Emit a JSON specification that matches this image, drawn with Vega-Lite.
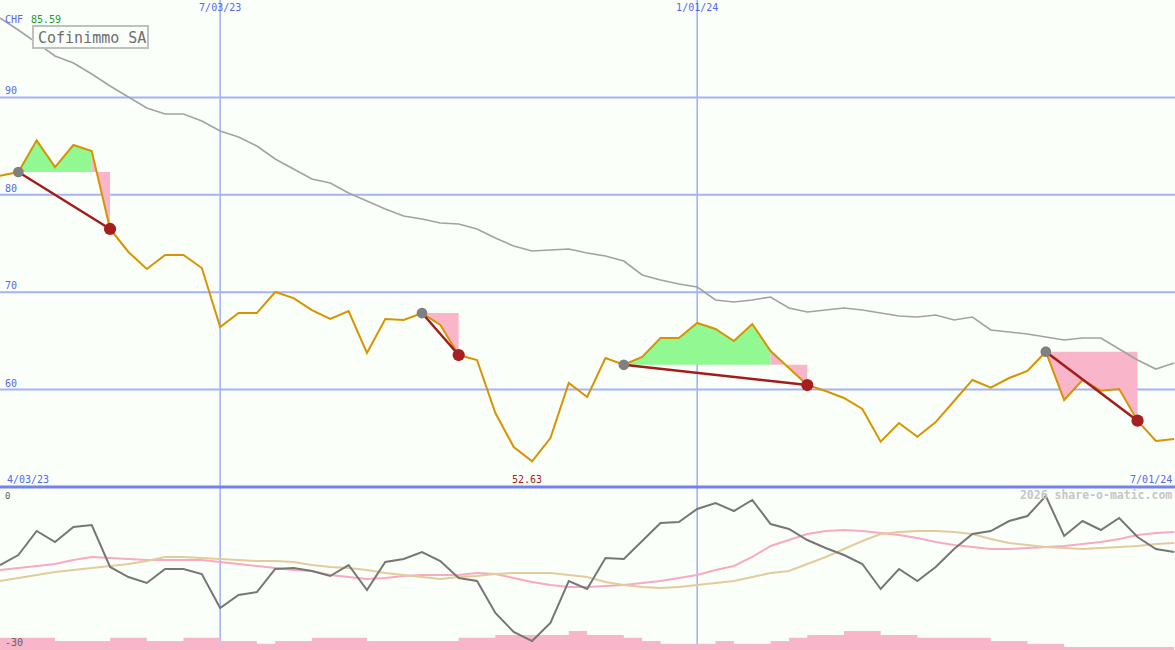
{
  "$schema": "https://vega.github.io/schema/vega-lite/v6.json",
  "width": 1175,
  "height": 650,
  "padding": 0,
  "autosize": {"type": "none"},
  "background": "#fbfffa",
  "config": {"view": {"stroke": null}, "font": "DejaVu Sans Mono"},
  "datasets": {
    "w": [
      {"d": "2023-04-03", "p": 81.72, "ma": null, "o": null, "s1": null, "s2": null, "v": null},
      {"d": "2023-04-10", "p": 81.96, "ma": 98.15, "o": -14.36, "s1": -15.28, "s2": -17.30, "v": -27.74},
      {"d": "2023-04-17", "p": 82.34, "ma": 96.92, "o": -12.52, "s1": -14.91, "s2": -16.75, "v": -27.74},
      {"d": "2023-04-24", "p": 85.59, "ma": 95.59, "o": -8.10, "s1": -14.54, "s2": -16.20, "v": -27.74},
      {"d": "2023-05-01", "p": 82.85, "ma": 94.25, "o": -10.12, "s1": -14.17, "s2": -15.64, "v": -28.34},
      {"d": "2023-05-08", "p": 85.11, "ma": 93.53, "o": -7.36, "s1": -13.44, "s2": -15.28, "v": -28.34},
      {"d": "2023-05-15", "p": 84.50, "ma": 92.40, "o": -6.99, "s1": -12.88, "s2": -14.91, "v": -28.34},
      {"d": "2023-05-22", "p": 76.49, "ma": 91.17, "o": -14.72, "s1": -13.07, "s2": -14.54, "v": -27.74},
      {"d": "2023-05-29", "p": 74.13, "ma": 90.04, "o": -16.57, "s1": -13.25, "s2": -14.17, "v": -27.74},
      {"d": "2023-06-05", "p": 72.38, "ma": 88.91, "o": -17.67, "s1": -13.44, "s2": -13.62, "v": -28.34},
      {"d": "2023-06-12", "p": 73.82, "ma": 88.30, "o": -15.09, "s1": -13.44, "s2": -12.88, "v": -28.34},
      {"d": "2023-06-19", "p": 73.82, "ma": 88.30, "o": -15.09, "s1": -13.44, "s2": -12.88, "v": -27.74},
      {"d": "2023-06-26", "p": 72.48, "ma": 87.58, "o": -16.01, "s1": -13.44, "s2": -13.07, "v": -27.74},
      {"d": "2023-07-03", "p": 66.43, "ma": 86.55, "o": -22.27, "s1": -13.80, "s2": -13.25, "v": -28.34},
      {"d": "2023-07-10", "p": 67.86, "ma": 85.93, "o": -19.88, "s1": -14.17, "s2": -13.44, "v": -28.34},
      {"d": "2023-07-17", "p": 67.86, "ma": 85.01, "o": -19.33, "s1": -14.54, "s2": -13.62, "v": -28.84},
      {"d": "2023-07-24", "p": 70.02, "ma": 83.68, "o": -15.09, "s1": -14.91, "s2": -13.62, "v": -28.34},
      {"d": "2023-07-31", "p": 69.40, "ma": 82.65, "o": -14.91, "s1": -15.28, "s2": -13.80, "v": -28.34},
      {"d": "2023-08-07", "p": 68.17, "ma": 81.62, "o": -15.46, "s1": -15.46, "s2": -14.36, "v": -27.74},
      {"d": "2023-08-14", "p": 67.25, "ma": 81.21, "o": -16.38, "s1": -16.20, "s2": -14.72, "v": -27.74},
      {"d": "2023-08-21", "p": 68.07, "ma": 80.18, "o": -14.36, "s1": -16.56, "s2": -14.91, "v": -27.74},
      {"d": "2023-08-28", "p": 63.76, "ma": 79.36, "o": -18.96, "s1": -16.93, "s2": -15.28, "v": -28.34},
      {"d": "2023-09-04", "p": 67.25, "ma": 78.54, "o": -13.80, "s1": -16.75, "s2": -15.83, "v": -28.34},
      {"d": "2023-09-11", "p": 67.15, "ma": 77.82, "o": -13.25, "s1": -16.38, "s2": -16.20, "v": -28.34},
      {"d": "2023-09-18", "p": 67.86, "ma": 77.52, "o": -11.96, "s1": -16.20, "s2": -16.56, "v": -28.34},
      {"d": "2023-09-25", "p": 66.63, "ma": 77.10, "o": -13.62, "s1": -16.20, "s2": -16.93, "v": -28.34},
      {"d": "2023-10-02", "p": 63.55, "ma": 77.00, "o": -16.75, "s1": -16.20, "s2": -16.56, "v": -27.74},
      {"d": "2023-10-09", "p": 63.04, "ma": 76.49, "o": -17.30, "s1": -15.83, "s2": -16.38, "v": -27.74},
      {"d": "2023-10-16", "p": 57.60, "ma": 75.56, "o": -23.19, "s1": -16.01, "s2": -16.01, "v": -27.24},
      {"d": "2023-10-23", "p": 54.11, "ma": 74.74, "o": -26.69, "s1": -16.75, "s2": -15.83, "v": -27.24},
      {"d": "2023-10-30", "p": 52.63, "ma": 74.23, "o": -28.35, "s1": -17.48, "s2": -15.83, "v": -27.24},
      {"d": "2023-11-06", "p": 55.03, "ma": 74.33, "o": -25.03, "s1": -18.04, "s2": -15.83, "v": -27.24},
      {"d": "2023-11-13", "p": 60.68, "ma": 74.44, "o": -17.30, "s1": -18.41, "s2": -16.20, "v": -26.50},
      {"d": "2023-11-20", "p": 59.24, "ma": 74.02, "o": -18.77, "s1": -18.41, "s2": -16.56, "v": -27.24},
      {"d": "2023-11-27", "p": 63.24, "ma": 73.72, "o": -13.07, "s1": -18.22, "s2": -17.48, "v": -27.24},
      {"d": "2023-12-04", "p": 62.55, "ma": 73.20, "o": -13.25, "s1": -18.04, "s2": -18.04, "v": -27.74},
      {"d": "2023-12-11", "p": 63.35, "ma": 71.77, "o": -9.94, "s1": -17.67, "s2": -18.41, "v": -28.34},
      {"d": "2023-12-18", "p": 65.30, "ma": 71.25, "o": -6.63, "s1": -17.30, "s2": -18.59, "v": -28.84},
      {"d": "2023-12-25", "p": 65.30, "ma": 70.84, "o": -6.44, "s1": -16.75, "s2": -18.41, "v": -28.84},
      {"d": "2024-01-01", "p": 66.84, "ma": 70.53, "o": -4.05, "s1": -16.20, "s2": -18.04, "v": -28.84},
      {"d": "2024-01-08", "p": 66.22, "ma": 69.20, "o": -2.94, "s1": -15.28, "s2": -17.67, "v": -28.34},
      {"d": "2024-01-15", "p": 64.99, "ma": 68.99, "o": -4.42, "s1": -14.54, "s2": -17.30, "v": -28.84},
      {"d": "2024-01-22", "p": 66.74, "ma": 69.20, "o": -2.39, "s1": -12.88, "s2": -16.56, "v": -28.84},
      {"d": "2024-01-29", "p": 63.96, "ma": 69.51, "o": -6.81, "s1": -10.86, "s2": -15.83, "v": -28.34},
      {"d": "2024-02-05", "p": 62.22, "ma": 68.38, "o": -7.73, "s1": -9.75, "s2": -15.46, "v": -27.74},
      {"d": "2024-02-12", "p": 60.47, "ma": 67.97, "o": -9.76, "s1": -8.65, "s2": -14.17, "v": -27.24},
      {"d": "2024-02-19", "p": 59.86, "ma": 68.17, "o": -11.23, "s1": -8.10, "s2": -12.88, "v": -27.24},
      {"d": "2024-02-26", "p": 59.14, "ma": 68.38, "o": -12.52, "s1": -7.91, "s2": -11.41, "v": -26.50},
      {"d": "2024-03-04", "p": 58.01, "ma": 68.17, "o": -14.17, "s1": -8.10, "s2": -9.94, "v": -26.50},
      {"d": "2024-03-11", "p": 54.65, "ma": 67.86, "o": -18.77, "s1": -8.47, "s2": -8.65, "v": -27.24},
      {"d": "2024-03-18", "p": 56.57, "ma": 67.56, "o": -15.09, "s1": -8.83, "s2": -8.28, "v": -27.24},
      {"d": "2024-03-25", "p": 55.16, "ma": 67.45, "o": -17.30, "s1": -9.39, "s2": -8.10, "v": -27.74},
      {"d": "2024-04-01", "p": 56.67, "ma": 67.66, "o": -14.72, "s1": -10.12, "s2": -8.10, "v": -27.74},
      {"d": "2024-04-08", "p": 58.83, "ma": 67.15, "o": -11.41, "s1": -10.67, "s2": -8.28, "v": -27.74},
      {"d": "2024-04-15", "p": 60.99, "ma": 67.45, "o": -8.65, "s1": -11.04, "s2": -8.65, "v": -27.74},
      {"d": "2024-04-22", "p": 60.19, "ma": 66.12, "o": -8.10, "s1": -11.41, "s2": -9.57, "v": -28.34},
      {"d": "2024-04-29", "p": 61.19, "ma": 65.91, "o": -6.26, "s1": -11.41, "s2": -10.31, "v": -28.34},
      {"d": "2024-05-06", "p": 61.91, "ma": 65.71, "o": -5.34, "s1": -11.23, "s2": -10.67, "v": -28.84},
      {"d": "2024-05-13", "p": 63.89, "ma": 65.40, "o": -1.66, "s1": -11.04, "s2": -11.04, "v": -28.84},
      {"d": "2024-05-20", "p": 58.93, "ma": 65.09, "o": -9.02, "s1": -10.86, "s2": -11.23, "v": -29.45},
      {"d": "2024-05-27", "p": 60.99, "ma": 65.30, "o": -6.26, "s1": -10.49, "s2": -11.41, "v": -29.45},
      {"d": "2024-06-03", "p": 59.89, "ma": 65.30, "o": -7.91, "s1": -10.12, "s2": -11.23, "v": -29.45},
      {"d": "2024-06-10", "p": 60.06, "ma": 64.17, "o": -5.71, "s1": -9.57, "s2": -11.04, "v": -29.45},
      {"d": "2024-06-17", "p": 56.81, "ma": 63.04, "o": -9.20, "s1": -8.83, "s2": -10.86, "v": -29.45},
      {"d": "2024-06-24", "p": 54.72, "ma": 62.11, "o": -11.41, "s1": -8.47, "s2": -10.49, "v": -29.45},
      {"d": "2024-07-01", "p": 54.93, "ma": 62.73, "o": -11.96, "s1": -8.28, "s2": -10.31, "v": -29.45}
    ],
    "fills": [
      {"g": 1, "k": "gain", "d": "2023-04-17", "p": 82.34, "b": 82.34},
      {"g": 1, "k": "gain", "d": "2023-04-24", "p": 85.59, "b": 82.34},
      {"g": 1, "k": "gain", "d": "2023-05-01", "p": 82.85, "b": 82.34},
      {"g": 1, "k": "gain", "d": "2023-05-08", "p": 85.11, "b": 82.34},
      {"g": 1, "k": "gain", "d": "2023-05-15", "p": 84.50, "b": 82.34},
      {"g": 2, "k": "loss", "d": "2023-05-15", "p": 84.50, "b": 82.34},
      {"g": 2, "k": "loss", "d": "2023-05-22", "p": 76.49, "b": 82.34},
      {"g": 3, "k": "loss", "d": "2023-09-18", "p": 67.86, "b": 67.86},
      {"g": 3, "k": "loss", "d": "2023-09-25", "p": 66.63, "b": 67.86},
      {"g": 3, "k": "loss", "d": "2023-10-02", "p": 63.55, "b": 67.86},
      {"g": 4, "k": "gain", "d": "2023-12-04", "p": 62.55, "b": 62.55},
      {"g": 4, "k": "gain", "d": "2023-12-11", "p": 63.35, "b": 62.55},
      {"g": 4, "k": "gain", "d": "2023-12-18", "p": 65.30, "b": 62.55},
      {"g": 4, "k": "gain", "d": "2023-12-25", "p": 65.30, "b": 62.55},
      {"g": 4, "k": "gain", "d": "2024-01-01", "p": 66.84, "b": 62.55},
      {"g": 4, "k": "gain", "d": "2024-01-08", "p": 66.22, "b": 62.55},
      {"g": 4, "k": "gain", "d": "2024-01-15", "p": 64.99, "b": 62.55},
      {"g": 4, "k": "gain", "d": "2024-01-22", "p": 66.74, "b": 62.55},
      {"g": 4, "k": "gain", "d": "2024-01-29", "p": 63.96, "b": 62.55},
      {"g": 5, "k": "loss", "d": "2024-01-29", "p": 63.96, "b": 62.55},
      {"g": 5, "k": "loss", "d": "2024-02-05", "p": 62.22, "b": 62.55},
      {"g": 5, "k": "loss", "d": "2024-02-12", "p": 60.47, "b": 62.55},
      {"g": 6, "k": "loss", "d": "2024-05-13", "p": 63.89, "b": 63.89},
      {"g": 6, "k": "loss", "d": "2024-05-20", "p": 58.93, "b": 63.89},
      {"g": 6, "k": "loss", "d": "2024-05-27", "p": 60.99, "b": 63.89},
      {"g": 6, "k": "loss", "d": "2024-06-03", "p": 59.89, "b": 63.89},
      {"g": 6, "k": "loss", "d": "2024-06-10", "p": 60.06, "b": 63.89},
      {"g": 6, "k": "loss", "d": "2024-06-17", "p": 56.81, "b": 63.89}
    ],
    "trades": [
      {"b": "2023-04-17", "bp": 82.34, "s": "2023-05-22", "sp": 76.49},
      {"b": "2023-09-18", "bp": 67.86, "s": "2023-10-02", "sp": 63.55},
      {"b": "2023-12-04", "bp": 62.55, "s": "2024-02-12", "sp": 60.47},
      {"b": "2024-05-13", "bp": 63.89, "s": "2024-06-17", "sp": 56.81}
    ],
    "hgrid": [{"g": 60}, {"g": 70}, {"g": 80}, {"g": 90}],
    "vgrid": [{"d": "2023-07-03", "l": "7/03/23"}, {"d": "2024-01-01", "l": "1/01/24"}]
  },
  "resolve": {"scale": {"y": "independent"}},
  "layer": [
    {
      "layer": [
        {
          "data": {"name": "vgrid"},
          "mark": {"type": "rule", "color": "#a6b3f3", "strokeWidth": 1.6},
          "encoding": {
            "x": {"field": "d", "type": "temporal", "axis": null, "scale": {"type": "utc", "domain": [{"year": 2023, "month": 4, "date": 10, "utc": true}, {"year": 2024, "month": 7, "date": 1, "hours": 7, "utc": true}]}}
          }
        },
        {
          "data": {"name": "hgrid"},
          "mark": {"type": "rule", "color": "#a6b3f3", "strokeWidth": 2},
          "encoding": {
            "y": {"field": "g", "type": "quantitative", "axis": null, "scale": {"domain": [50, 100], "range": [487, 0], "zero": false, "nice": false}}
          }
        },
        {
          "data": {"name": "fills"},
          "mark": {"type": "area", "opacity": 1, "clip": true},
          "encoding": {
            "x": {"field": "d", "type": "temporal", "axis": null, "scale": {"type": "utc", "domain": [{"year": 2023, "month": 4, "date": 10, "utc": true}, {"year": 2024, "month": 7, "date": 1, "hours": 7, "utc": true}]}},
            "y": {"field": "p", "type": "quantitative", "axis": null, "scale": {"domain": [50, 100], "range": [487, 0], "zero": false, "nice": false}},
            "y2": {"field": "b"},
            "fill": {"field": "k", "type": "nominal", "legend": null, "scale": {"domain": ["gain", "loss"], "range": ["#92f892", "#f9b5ca"]}},
            "detail": {"field": "g"}
          }
        },
        {
          "data": {"name": "hgrid"},
          "mark": {"type": "text", "align": "left", "baseline": "bottom", "dx": 5, "dy": -1, "fontSize": 10, "color": "#5566ee", "font": "DejaVu Sans Mono"},
          "encoding": {
            "x": {"datum": {"year": 2023, "month": 4, "date": 10, "utc": true}, "type": "temporal", "axis": null, "scale": {"type": "utc", "domain": [{"year": 2023, "month": 4, "date": 10, "utc": true}, {"year": 2024, "month": 7, "date": 1, "hours": 7, "utc": true}]}},
            "y": {"field": "g", "type": "quantitative", "axis": null, "scale": {"domain": [50, 100], "range": [487, 0], "zero": false, "nice": false}},
            "text": {"field": "g"}
          }
        },
        {
          "data": {"name": "vgrid"},
          "mark": {"type": "text", "align": "center", "baseline": "top", "dy": 3, "fontSize": 10, "color": "#5566ee", "font": "DejaVu Sans Mono"},
          "encoding": {
            "x": {"field": "d", "type": "temporal", "axis": null, "scale": {"type": "utc", "domain": [{"year": 2023, "month": 4, "date": 10, "utc": true}, {"year": 2024, "month": 7, "date": 1, "hours": 7, "utc": true}]}},
            "y": {"datum": 100, "type": "quantitative", "axis": null, "scale": {"domain": [50, 100], "range": [487, 0], "zero": false, "nice": false}},
            "text": {"field": "l"}
          }
        },
        {
          "data": {"name": "w"},
          "mark": {"type": "line", "color": "#a2a2a2", "strokeWidth": 1.6, "clip": true},
          "encoding": {
            "x": {"field": "d", "type": "temporal", "axis": null, "scale": {"type": "utc", "domain": [{"year": 2023, "month": 4, "date": 10, "utc": true}, {"year": 2024, "month": 7, "date": 1, "hours": 7, "utc": true}]}},
            "y": {"field": "ma", "type": "quantitative", "axis": null, "scale": {"domain": [50, 100], "range": [487, 0], "zero": false, "nice": false}}
          }
        },
        {
          "data": {"name": "w"},
          "mark": {"type": "line", "color": "#d69400", "strokeWidth": 2, "clip": true},
          "encoding": {
            "x": {"field": "d", "type": "temporal", "axis": null, "scale": {"type": "utc", "domain": [{"year": 2023, "month": 4, "date": 10, "utc": true}, {"year": 2024, "month": 7, "date": 1, "hours": 7, "utc": true}]}},
            "y": {"field": "p", "type": "quantitative", "axis": null, "scale": {"domain": [50, 100], "range": [487, 0], "zero": false, "nice": false}}
          }
        },
        {
          "data": {"name": "trades"},
          "mark": {"type": "rule", "color": "#a31c1c", "strokeWidth": 2.5},
          "encoding": {
            "x": {"field": "b", "type": "temporal", "axis": null, "scale": {"type": "utc", "domain": [{"year": 2023, "month": 4, "date": 10, "utc": true}, {"year": 2024, "month": 7, "date": 1, "hours": 7, "utc": true}]}},
            "x2": {"field": "s"},
            "y": {"field": "bp", "type": "quantitative", "axis": null, "scale": {"domain": [50, 100], "range": [487, 0], "zero": false, "nice": false}},
            "y2": {"field": "sp"}
          }
        },
        {
          "data": {"name": "trades"},
          "mark": {"type": "circle", "color": "#808080", "opacity": 1, "size": 115},
          "encoding": {
            "x": {"field": "b", "type": "temporal", "axis": null, "scale": {"type": "utc", "domain": [{"year": 2023, "month": 4, "date": 10, "utc": true}, {"year": 2024, "month": 7, "date": 1, "hours": 7, "utc": true}]}},
            "y": {"field": "bp", "type": "quantitative", "axis": null, "scale": {"domain": [50, 100], "range": [487, 0], "zero": false, "nice": false}}
          }
        },
        {
          "data": {"name": "trades"},
          "mark": {"type": "circle", "color": "#a61f1f", "opacity": 1, "size": 150},
          "encoding": {
            "x": {"field": "s", "type": "temporal", "axis": null, "scale": {"type": "utc", "domain": [{"year": 2023, "month": 4, "date": 10, "utc": true}, {"year": 2024, "month": 7, "date": 1, "hours": 7, "utc": true}]}},
            "y": {"field": "sp", "type": "quantitative", "axis": null, "scale": {"domain": [50, 100], "range": [487, 0], "zero": false, "nice": false}}
          }
        },
        {
          "data": {"values": [{}]},
          "mark": {"type": "rule", "color": "#7383ea", "strokeWidth": 3},
          "encoding": {
            "y": {"datum": 50, "type": "quantitative", "axis": null, "scale": {"domain": [50, 100], "range": [487, 0], "zero": false, "nice": false}}
          }
        },
        {
          "data": {"values": [{}]},
          "mark": {"type": "rect", "fill": "#fbfffa", "stroke": "#c0c0c0", "strokeWidth": 2},
          "encoding": {
            "x": {"datum": {"year": 2023, "month": 4, "date": 22, "hours": 14, "utc": true}, "type": "temporal", "axis": null, "scale": {"type": "utc", "domain": [{"year": 2023, "month": 4, "date": 10, "utc": true}, {"year": 2024, "month": 7, "date": 1, "hours": 7, "utc": true}]}},
            "x2": {"datum": {"year": 2023, "month": 6, "date": 5, "hours": 11, "utc": true}},
            "y": {"datum": 97.33, "type": "quantitative", "axis": null, "scale": {"domain": [50, 100], "range": [487, 0], "zero": false, "nice": false}},
            "y2": {"datum": 95.07}
          }
        },
        {
          "data": {"values": [{"t": "Cofinimmo SA"}]},
          "mark": {"type": "text", "align": "left", "baseline": "middle", "dx": 5, "dy": 1, "fontSize": 15, "color": "#6e6e6e", "font": "DejaVu Sans Mono"},
          "encoding": {
            "x": {"datum": {"year": 2023, "month": 4, "date": 22, "hours": 14, "utc": true}, "type": "temporal", "axis": null, "scale": {"type": "utc", "domain": [{"year": 2023, "month": 4, "date": 10, "utc": true}, {"year": 2024, "month": 7, "date": 1, "hours": 7, "utc": true}]}},
            "y": {"datum": 96.2, "type": "quantitative", "axis": null, "scale": {"domain": [50, 100], "range": [487, 0], "zero": false, "nice": false}},
            "text": {"field": "t"}
          }
        },
        {
          "data": {"values": [{"t": "CHF"}]},
          "mark": {"type": "text", "align": "left", "baseline": "top", "dx": 5, "dy": 15, "fontSize": 10, "color": "#5566ee", "font": "DejaVu Sans Mono"},
          "encoding": {
            "x": {"datum": {"year": 2023, "month": 4, "date": 10, "utc": true}, "type": "temporal", "axis": null, "scale": {"type": "utc", "domain": [{"year": 2023, "month": 4, "date": 10, "utc": true}, {"year": 2024, "month": 7, "date": 1, "hours": 7, "utc": true}]}},
            "y": {"datum": 100, "type": "quantitative", "axis": null, "scale": {"domain": [50, 100], "range": [487, 0], "zero": false, "nice": false}},
            "text": {"field": "t"}
          }
        },
        {
          "data": {"values": [{"t": "85.59"}]},
          "mark": {"type": "text", "align": "left", "baseline": "top", "dx": 31, "dy": 15, "fontSize": 10, "color": "#1c9c1c", "font": "DejaVu Sans Mono"},
          "encoding": {
            "x": {"datum": {"year": 2023, "month": 4, "date": 10, "utc": true}, "type": "temporal", "axis": null, "scale": {"type": "utc", "domain": [{"year": 2023, "month": 4, "date": 10, "utc": true}, {"year": 2024, "month": 7, "date": 1, "hours": 7, "utc": true}]}},
            "y": {"datum": 100, "type": "quantitative", "axis": null, "scale": {"domain": [50, 100], "range": [487, 0], "zero": false, "nice": false}},
            "text": {"field": "t"}
          }
        },
        {
          "data": {"values": [{"t": "4/03/23"}]},
          "mark": {"type": "text", "align": "left", "baseline": "alphabetic", "dx": 7, "dy": -4, "fontSize": 10, "color": "#5566ee", "font": "DejaVu Sans Mono"},
          "encoding": {
            "x": {"datum": {"year": 2023, "month": 4, "date": 10, "utc": true}, "type": "temporal", "axis": null, "scale": {"type": "utc", "domain": [{"year": 2023, "month": 4, "date": 10, "utc": true}, {"year": 2024, "month": 7, "date": 1, "hours": 7, "utc": true}]}},
            "y": {"datum": 50, "type": "quantitative", "axis": null, "scale": {"domain": [50, 100], "range": [487, 0], "zero": false, "nice": false}},
            "text": {"field": "t"}
          }
        },
        {
          "data": {"values": [{"t": "52.63"}]},
          "mark": {"type": "text", "align": "center", "baseline": "alphabetic", "dx": -5, "dy": -4, "fontSize": 10, "color": "#a31c1c", "font": "DejaVu Sans Mono"},
          "encoding": {
            "x": {"datum": {"year": 2023, "month": 10, "date": 30, "utc": true}, "type": "temporal", "axis": null, "scale": {"type": "utc", "domain": [{"year": 2023, "month": 4, "date": 10, "utc": true}, {"year": 2024, "month": 7, "date": 1, "hours": 7, "utc": true}]}},
            "y": {"datum": 50, "type": "quantitative", "axis": null, "scale": {"domain": [50, 100], "range": [487, 0], "zero": false, "nice": false}},
            "text": {"field": "t"}
          }
        },
        {
          "data": {"values": [{"t": "7/01/24"}]},
          "mark": {"type": "text", "align": "right", "baseline": "alphabetic", "dx": -2, "dy": -4, "fontSize": 10, "color": "#5566ee", "font": "DejaVu Sans Mono"},
          "encoding": {
            "x": {"datum": {"year": 2024, "month": 7, "date": 1, "utc": true}, "type": "temporal", "axis": null, "scale": {"type": "utc", "domain": [{"year": 2023, "month": 4, "date": 10, "utc": true}, {"year": 2024, "month": 7, "date": 1, "hours": 7, "utc": true}]}},
            "y": {"datum": 50, "type": "quantitative", "axis": null, "scale": {"domain": [50, 100], "range": [487, 0], "zero": false, "nice": false}},
            "text": {"field": "t"}
          }
        }
      ]
    },
    {
      "layer": [
        {
          "data": {"name": "w"},
          "mark": {"type": "area", "interpolate": "step-after", "color": "#f9b5ca", "opacity": 1, "clip": true},
          "encoding": {
            "x": {"field": "d", "type": "temporal", "axis": null, "scale": {"type": "utc", "domain": [{"year": 2023, "month": 4, "date": 10, "utc": true}, {"year": 2024, "month": 7, "date": 1, "hours": 7, "utc": true}]}},
            "y": {"field": "v", "type": "quantitative", "axis": null, "scale": {"domain": [-30, 0], "range": [650, 487], "zero": false, "nice": false}},
            "y2": {"datum": -30}
          }
        },
        {
          "data": {"name": "w"},
          "mark": {"type": "line", "color": "#f8a9c6", "strokeWidth": 2, "clip": true},
          "encoding": {
            "x": {"field": "d", "type": "temporal", "axis": null, "scale": {"type": "utc", "domain": [{"year": 2023, "month": 4, "date": 10, "utc": true}, {"year": 2024, "month": 7, "date": 1, "hours": 7, "utc": true}]}},
            "y": {"field": "s1", "type": "quantitative", "axis": null, "scale": {"domain": [-30, 0], "range": [650, 487], "zero": false, "nice": false}}
          }
        },
        {
          "data": {"name": "w"},
          "mark": {"type": "line", "color": "#e3cb9c", "strokeWidth": 2, "clip": true},
          "encoding": {
            "x": {"field": "d", "type": "temporal", "axis": null, "scale": {"type": "utc", "domain": [{"year": 2023, "month": 4, "date": 10, "utc": true}, {"year": 2024, "month": 7, "date": 1, "hours": 7, "utc": true}]}},
            "y": {"field": "s2", "type": "quantitative", "axis": null, "scale": {"domain": [-30, 0], "range": [650, 487], "zero": false, "nice": false}}
          }
        },
        {
          "data": {"name": "w"},
          "mark": {"type": "line", "color": "#767676", "strokeWidth": 2, "clip": true},
          "encoding": {
            "x": {"field": "d", "type": "temporal", "axis": null, "scale": {"type": "utc", "domain": [{"year": 2023, "month": 4, "date": 10, "utc": true}, {"year": 2024, "month": 7, "date": 1, "hours": 7, "utc": true}]}},
            "y": {"field": "o", "type": "quantitative", "axis": null, "scale": {"domain": [-30, 0], "range": [650, 487], "zero": false, "nice": false}}
          }
        },
        {
          "data": {"values": [{"t": "0", "y": 0}]},
          "mark": {"type": "text", "align": "left", "baseline": "top", "dx": 5, "dy": 5, "fontSize": 9, "color": "#606060", "font": "DejaVu Sans Mono"},
          "encoding": {
            "x": {"datum": {"year": 2023, "month": 4, "date": 10, "utc": true}, "type": "temporal", "axis": null, "scale": {"type": "utc", "domain": [{"year": 2023, "month": 4, "date": 10, "utc": true}, {"year": 2024, "month": 7, "date": 1, "hours": 7, "utc": true}]}},
            "y": {"field": "y", "type": "quantitative", "axis": null, "scale": {"domain": [-30, 0], "range": [650, 487], "zero": false, "nice": false}},
            "text": {"field": "t"}
          }
        },
        {
          "data": {"values": [{"t": "-30", "y": -30}]},
          "mark": {"type": "text", "align": "left", "baseline": "bottom", "dx": 5, "dy": -2, "fontSize": 10, "color": "#606060", "font": "DejaVu Sans Mono"},
          "encoding": {
            "x": {"datum": {"year": 2023, "month": 4, "date": 10, "utc": true}, "type": "temporal", "axis": null, "scale": {"type": "utc", "domain": [{"year": 2023, "month": 4, "date": 10, "utc": true}, {"year": 2024, "month": 7, "date": 1, "hours": 7, "utc": true}]}},
            "y": {"field": "y", "type": "quantitative", "axis": null, "scale": {"domain": [-30, 0], "range": [650, 487], "zero": false, "nice": false}},
            "text": {"field": "t"}
          }
        },
        {
          "data": {"values": [{"t": "2026 share-o-matic.com", "y": 0}]},
          "mark": {"type": "text", "align": "right", "baseline": "top", "dx": -2, "dy": 3, "fontSize": 11.5, "fontWeight": "bold", "color": "#c6c6c6", "font": "DejaVu Sans Mono"},
          "encoding": {
            "x": {"datum": {"year": 2024, "month": 7, "date": 1, "utc": true}, "type": "temporal", "axis": null, "scale": {"type": "utc", "domain": [{"year": 2023, "month": 4, "date": 10, "utc": true}, {"year": 2024, "month": 7, "date": 1, "hours": 7, "utc": true}]}},
            "y": {"field": "y", "type": "quantitative", "axis": null, "scale": {"domain": [-30, 0], "range": [650, 487], "zero": false, "nice": false}},
            "text": {"field": "t"}
          }
        }
      ]
    }
  ]
}
